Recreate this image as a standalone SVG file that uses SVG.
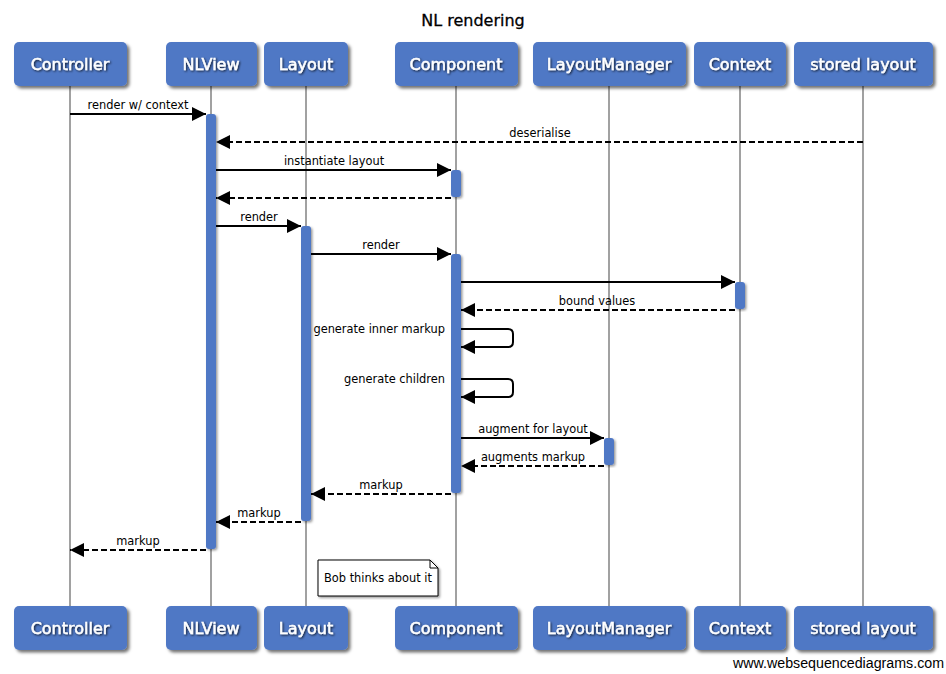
<svg xmlns="http://www.w3.org/2000/svg" width="946" height="674" viewBox="0 0 946 674">
<style>
.box{fill:#5078c5;filter:url(#sh)}
.hd{font-family:"DejaVu Sans",Verdana,sans-serif;font-size:16px;fill:#fff;text-anchor:middle;stroke:#fff;stroke-width:0.45;filter:url(#tsh)}
.life{stroke:#8a8a8a;stroke-width:1.6}
.act{fill:#5078c5;filter:url(#sh2)}
.msg{stroke:#000;stroke-width:2;fill:none}
.dash{stroke-dasharray:6,3}
.lbl{font-family:"DejaVu Sans",Verdana,sans-serif;font-size:11.4px;fill:#000;text-anchor:middle}
</style>
<defs>
<filter id="sh" x="-20%" y="-20%" width="140%" height="150%">
<feDropShadow dx="2.5" dy="2.5" stdDeviation="1.5" flood-color="#000" flood-opacity="0.55"/>
</filter>
<filter id="sh2" x="-50%" y="-10%" width="200%" height="120%">
<feDropShadow dx="1.5" dy="1.5" stdDeviation="1" flood-color="#000" flood-opacity="0.4"/>
</filter>
<filter id="tsh" x="-10%" y="-30%" width="120%" height="160%">
<feDropShadow dx="1" dy="1" stdDeviation="0.8" flood-color="#000" flood-opacity="0.8"/>
</filter>
<marker id="ah" markerUnits="userSpaceOnUse" markerWidth="15" markerHeight="14" refX="14" refY="7" orient="auto">
<path d="M0,0 L14,7 L0,14 z" fill="#000"/>
</marker>
</defs>
<rect width="946" height="674" fill="#fff"/>
<text x="473" y="26" font-family="DejaVu Sans,Verdana,sans-serif" font-size="16" text-anchor="middle" fill="#000" stroke="#000" stroke-width="0.3">NL rendering</text>

<g id="lifelines">
<line class="life" x1="70" y1="86" x2="70" y2="606"/>
<line class="life" x1="211" y1="86" x2="211" y2="606"/>
<line class="life" x1="306" y1="86" x2="306" y2="606"/>
<line class="life" x1="456" y1="86" x2="456" y2="606"/>
<line class="life" x1="609" y1="86" x2="609" y2="606"/>
<line class="life" x1="740" y1="86" x2="740" y2="606"/>
<line class="life" x1="863" y1="86" x2="863" y2="606"/>
</g>

<g id="controller">
<rect class="box" x="14" y="42" width="113" height="44" rx="5"/>
<text class="hd" x="70" y="70">Controller</text>
<rect class="box" x="14" y="606" width="113" height="44" rx="5"/>
<text class="hd" x="70" y="634">Controller</text>
</g>
<g id="nlview">
<rect class="box" x="166" y="42" width="91" height="44" rx="5"/>
<text class="hd" x="211" y="70">NLView</text>
<rect class="box" x="166" y="606" width="91" height="44" rx="5"/>
<text class="hd" x="211" y="634">NLView</text>
<rect class="act" x="206" y="114" width="10" height="435" rx="3"/>
</g>
<g id="layout">
<rect class="box" x="264" y="42" width="84" height="44" rx="5"/>
<text class="hd" x="306" y="70">Layout</text>
<rect class="box" x="264" y="606" width="84" height="44" rx="5"/>
<text class="hd" x="306" y="634">Layout</text>
<rect class="act" x="301" y="226" width="10" height="295" rx="3"/>
</g>
<g id="component">
<rect class="box" x="395" y="42" width="123" height="44" rx="5"/>
<text class="hd" x="456" y="70">Component</text>
<rect class="box" x="395" y="606" width="123" height="44" rx="5"/>
<text class="hd" x="456" y="634">Component</text>
<rect class="act" x="451" y="170" width="10" height="27" rx="3"/>
<rect class="act" x="451" y="254" width="10" height="239" rx="3"/>
</g>
<g id="layoutmanager">
<rect class="box" x="533" y="42" width="153" height="44" rx="5"/>
<text class="hd" x="609" y="70">LayoutManager</text>
<rect class="box" x="533" y="606" width="153" height="44" rx="5"/>
<text class="hd" x="609" y="634">LayoutManager</text>
<rect class="act" x="604" y="438" width="10" height="27" rx="3"/>
</g>
<g id="context">
<rect class="box" x="694" y="42" width="92" height="44" rx="5"/>
<text class="hd" x="740" y="70">Context</text>
<rect class="box" x="694" y="606" width="92" height="44" rx="5"/>
<text class="hd" x="740" y="634">Context</text>
<rect class="act" x="735" y="282" width="10" height="27" rx="3"/>
</g>
<g id="storedlayout">
<rect class="box" x="794" y="42" width="139" height="44" rx="5"/>
<text class="hd" x="863" y="70">stored layout</text>
<rect class="box" x="794" y="606" width="139" height="44" rx="5"/>
<text class="hd" x="863" y="634">stored layout</text>
</g>

<g id="connectors">
<line class="msg" x1="70" y1="114" x2="206" y2="114" marker-end="url(#ah)"/>
<text class="lbl" x="138" y="109">render w/ context</text>
<line class="msg dash" x1="863" y1="142" x2="216" y2="142" marker-end="url(#ah)"/>
<text class="lbl" x="540" y="137">deserialise</text>
<line class="msg" x1="216" y1="170" x2="451" y2="170" marker-end="url(#ah)"/>
<text class="lbl" x="334" y="165">instantiate layout</text>
<line class="msg dash" x1="451" y1="198" x2="216" y2="198" marker-end="url(#ah)"/>
<line class="msg" x1="216" y1="226" x2="301" y2="226" marker-end="url(#ah)"/>
<text class="lbl" x="259" y="221">render</text>
<line class="msg" x1="311" y1="254" x2="451" y2="254" marker-end="url(#ah)"/>
<text class="lbl" x="381" y="249">render</text>
<line class="msg" x1="461" y1="282" x2="735" y2="282" marker-end="url(#ah)"/>
<line class="msg dash" x1="735" y1="310" x2="461" y2="310" marker-end="url(#ah)"/>
<text class="lbl" x="597" y="305">bound values</text>
<path class="msg" d="M461,329 H508 Q513,329 513,334 V342 Q513,347 508,347 H461" marker-end="url(#ah)"/>
<text class="lbl" x="445" y="333" style="text-anchor:end">generate inner markup</text>
<path class="msg" d="M461,379 H508 Q513,379 513,384 V392 Q513,397 508,397 H461" marker-end="url(#ah)"/>
<text class="lbl" x="445" y="383" style="text-anchor:end">generate children</text>
<line class="msg" x1="461" y1="438" x2="604" y2="438" marker-end="url(#ah)"/>
<text class="lbl" x="533" y="433">augment for layout</text>
<line class="msg dash" x1="604" y1="466" x2="461" y2="466" marker-end="url(#ah)"/>
<text class="lbl" x="533" y="461">augments markup</text>
<line class="msg dash" x1="451" y1="494" x2="311" y2="494" marker-end="url(#ah)"/>
<text class="lbl" x="381" y="489">markup</text>
<line class="msg dash" x1="301" y1="522" x2="216" y2="522" marker-end="url(#ah)"/>
<text class="lbl" x="259" y="517">markup</text>
<line class="msg dash" x1="206" y1="550" x2="70" y2="550" marker-end="url(#ah)"/>
<text class="lbl" x="138" y="545">markup</text>
</g>

<g id="note">
<path d="M318,560 H430 L438,568 V596 H318 Z" fill="#fff" stroke="#000" stroke-width="1" filter="url(#sh2)"/>
<path d="M430,560 V568 H438" fill="none" stroke="#000" stroke-width="1"/>
<text class="lbl" x="378" y="582">Bob thinks about it</text>
</g>

<text x="944" y="668" font-family="Liberation Sans,Arial,sans-serif" font-size="14" text-anchor="end" textLength="211" lengthAdjust="spacingAndGlyphs" fill="#000">www.websequencediagrams.com</text>
</svg>
